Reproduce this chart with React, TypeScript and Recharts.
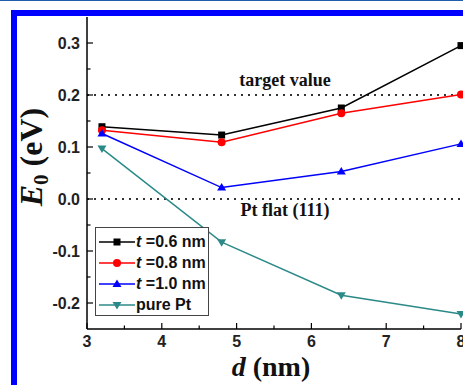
import React from 'react';
import { LineChart, Line, XAxis, YAxis, ReferenceLine, Legend, Label } from 'recharts';

// particle size d (nm)
const dValues = [3.2, 4.8, 6.4, 8.0];
// E0 (eV) per shell thickness
const t06 = [0.139, 0.123, 0.175, 0.295];
const t08 = [0.132, 0.109, 0.165, 0.201];
const t10 = [0.126, 0.022, 0.053, 0.106];
const purePt = [0.097, -0.083, -0.185, -0.221];

const xTicks = [3, 3.5, 4, 4.5, 5, 5.5, 6, 6.5, 7, 7.5, 8];
const yTicks = [-0.2, -0.15, -0.1, -0.05, 0, 0.05, 0.1, 0.15, 0.2, 0.25, 0.3];
const targetValue = 0.2;
const ptFlat = 0;

const data = dValues.map((d, i) => ({ d, t06: t06[i], t08: t08[i], t10: t10[i], pure: purePt[i] }));

const series = [
  { key: 't06', name: 't=0.6 nm', color: '#000000', shape: 'square' },
  { key: 't08', name: 't=0.8 nm', color: '#ff0000', shape: 'circle' },
  { key: 't10', name: 't=1.0 nm', color: '#0000ff', shape: 'up' },
  { key: 'pure', name: 'pure Pt', color: '#2b8a88', shape: 'down' },
];

const SANS = '"Liberation Sans", Arial, sans-serif';
const SERIF = '"Liberation Serif", "Times New Roman", serif';

function Marker({ cx, cy, shape, color }: any) {
  if (shape === 'square') return <rect x={cx - 3.5} y={cy - 3.5} width={7} height={7} fill={color} />;
  if (shape === 'circle') return <circle cx={cx} cy={cy} r={4} fill={color} />;
  if (shape === 'up')
    return <polygon points={`${cx},${cy - 4.5} ${cx + 4.5},${cy + 3} ${cx - 4.5},${cy + 3}`} fill={color} />;
  return <polygon points={`${cx},${cy + 4.5} ${cx + 4.5},${cy - 3} ${cx - 4.5},${cy - 3}`} fill={color} />;
}

const isMajor = (v: number, step: number) => Math.abs(v / step - Math.round(v / step)) < 1e-6;

const LeftTick = (props: any) => {
  const { x, y, payload } = props;
  const major = isMajor(payload.value, 0.1);
  return (
    <g>
      <line x1={x} y1={y} x2={x + (major ? 6 : 3.5)} y2={y} stroke="#000" strokeWidth={1.2} />
      {major && (
        <text x={x - 7} y={y} dy="0.35em" textAnchor="end" fontFamily={SANS} fontWeight="bold" fontSize={16} fill="#222">
          {payload.value.toFixed(1)}
        </text>
      )}
    </g>
  );
};

const RightTick = (props: any) => {
  const { x, y, payload } = props;
  const major = isMajor(payload.value, 0.1);
  return <line x1={x} y1={y} x2={x - (major ? 6 : 3.5)} y2={y} stroke="#000" strokeWidth={1.2} />;
};

const BottomTick = (props: any) => {
  const { x, y, payload } = props;
  const major = isMajor(payload.value, 1);
  return (
    <g>
      <line x1={x} y1={y} x2={x} y2={y - (major ? 6 : 3.5)} stroke="#000" strokeWidth={1.2} />
      {major && (
        <text x={x} y={y + 18} textAnchor="middle" fontFamily={SANS} fontWeight="bold" fontSize={16} fill="#222">
          {payload.value}
        </text>
      )}
    </g>
  );
};

const XTitle = (props: any) => {
  const { viewBox } = props;
  return (
    <text x={viewBox.x + viewBox.width / 2 - 3} y={viewBox.y + 47} textAnchor="middle" fontFamily={SERIF} fontWeight="bold" fontSize={28} fill="#111">
      <tspan fontStyle="italic">d</tspan> (nm)
    </text>
  );
};

const YTitle = (props: any) => {
  const { viewBox } = props;
  const cx = 42;
  const cy = viewBox.y + viewBox.height / 2 - 16;
  return (
    <text x={cx} y={cy} transform={`rotate(-90 ${cx} ${cy})`} textAnchor="middle" fontFamily={SERIF} fontWeight="bold" fontSize={32} fill="#111">
      <tspan fontStyle="italic">E</tspan>
      <tspan fontSize={21} dy={6}>0</tspan>
      <tspan dy={-6}> (eV)</tspan>
    </text>
  );
};

const refLabel = (text: string, dy: number) => (props: any) => {
  const { viewBox } = props;
  return (
    <text x={viewBox.x + viewBox.width / 2 + 11} y={viewBox.y + dy} textAnchor="middle" fontFamily={SERIF} fontWeight="bold" fontSize={18} fill="#111">
      {text}
    </text>
  );
};

const makeDot = (shape: string, color: string) => (props: any) => (
  <Marker key={`${shape}-${props.index}`} cx={props.cx} cy={props.cy} shape={shape} color={color} />
);

const LegendBox = () => (
  <div style={{ border: '1px solid #444', background: '#fff', padding: '3px 2px 0 3px', width: 114, boxSizing: 'border-box' }}>
    {series.map((s) => (
      <div key={s.key} style={{ display: 'flex', alignItems: 'center', height: 21 }}>
        <svg width={36} height={12} style={{ flex: 'none' }}>
          <line x1={0} y1={6} x2={36} y2={6} stroke={s.color} strokeWidth={1.5} />
          <Marker cx={18} cy={6} shape={s.shape} color={s.color} />
        </svg>
        <span style={{ fontFamily: SANS, fontWeight: 'bold', fontSize: 16, color: '#111', marginLeft: 1, whiteSpace: 'nowrap' }}>
          {s.name.startsWith('t=') ? (
            <>
              <i>t</i> {s.name.slice(1)}
            </>
          ) : (
            s.name
          )}
        </span>
      </div>
    ))}
  </div>
);

export default function App() {
  return (
    <div style={{ position: 'absolute', left: 0, top: 0, width: 463, height: 385, background: '#fff', overflow: 'hidden' }}>
      <div style={{ position: 'absolute', left: 0, top: 0, width: 463, height: 1, background: '#1f5fae' }} />
      <div style={{ position: 'absolute', left: 11, top: 10, width: 452, height: 6, background: '#0000ff' }} />
      <div style={{ position: 'absolute', left: 11, top: 10, width: 6, height: 375, background: '#0000ff' }} />
      <LineChart width={463} height={385} data={data} margin={{ top: 17, right: 2, bottom: 0, left: 0 }} style={{ position: 'absolute', left: 0, top: 0 }}>
        <XAxis
          dataKey="d"
          type="number"
          domain={[3, 8]}
          ticks={xTicks}
          interval={0}
          height={56}
          tickSize={0}
          tickMargin={0}
          tick={BottomTick}
          axisLine={{ stroke: '#000', strokeWidth: 1.5 }}
        >
          <Label content={XTitle} />
        </XAxis>
        <XAxis xAxisId="top" orientation="top" dataKey="d" type="number" domain={[3, 8]} height={0} tick={false} tickLine={false} axisLine={{ stroke: '#000', strokeWidth: 1.5 }} />
        <YAxis
          type="number"
          domain={[-0.25, 0.35]}
          ticks={yTicks}
          interval={0}
          width={87}
          tickSize={0}
          tickMargin={0}
          tick={LeftTick}
          axisLine={{ stroke: '#000', strokeWidth: 1.5 }}
        >
          <Label content={YTitle} />
        </YAxis>
        <YAxis
          yAxisId="right"
          orientation="right"
          type="number"
          domain={[-0.25, 0.35]}
          ticks={yTicks}
          interval={0}
          width={0}
          tickSize={0}
          tickMargin={0}
          tick={RightTick}
          axisLine={{ stroke: '#000', strokeWidth: 1.5 }}
        />
        <ReferenceLine y={targetValue} stroke="#333" strokeWidth={2} strokeDasharray="2 5" label={refLabel('target value', -9)} />
        <ReferenceLine y={ptFlat} stroke="#333" strokeWidth={2} strokeDasharray="2 5" label={refLabel('Pt flat (111)', 17)} />
        {series.map((s) => (
          <Line
            key={s.key}
            dataKey={s.key}
            name={s.name}
            stroke={s.color}
            strokeWidth={1.5}
            dot={makeDot(s.shape, s.color)}
            activeDot={false}
            isAnimationActive={false}
          />
        ))}
        <Legend
          layout="vertical"
          align="center"
          verticalAlign="middle"
          content={LegendBox}
          wrapperStyle={{ position: 'absolute', left: 95, top: 227, width: 114 }}
        />
      </LineChart>
    </div>
  );
}
